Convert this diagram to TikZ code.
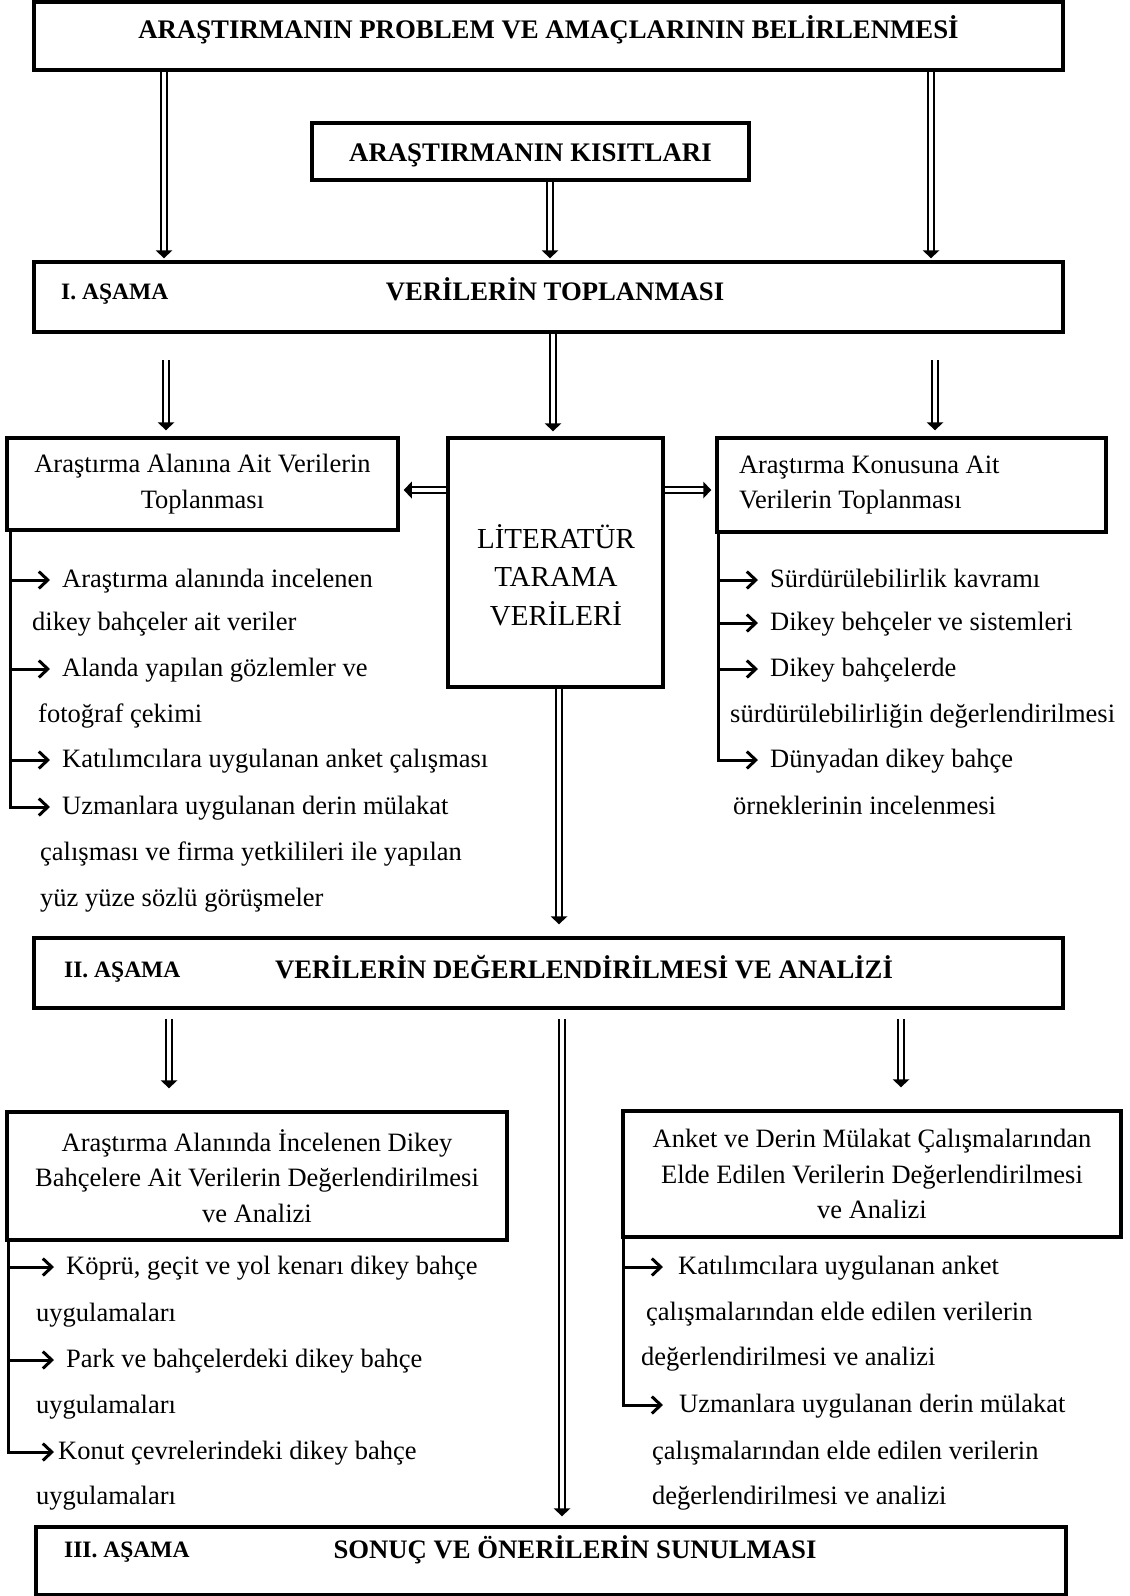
\documentclass[tikz,border=0pt]{standalone}
\usepackage{fontspec}
\setmainfont{Liberation Serif}
\usetikzlibrary{positioning,arrows.meta,decorations.markings}

\begin{document}
\begin{tikzpicture}[x=1pt, y=-1pt,
framenode/.style={rectangle, draw=black, line width=3.5pt, inner sep=0pt},
headnode/.style={font=\fontsize{26.7}{30}\selectfont\bfseries, inner sep=0pt, text height=17pt, text depth=0pt},
stagenode/.style={font=\fontsize{23.5}{30}\selectfont\bfseries, inner sep=0pt, text height=15.5pt, text depth=0pt, anchor=west},
boxtextnode/.style={font=\fontsize{26.5}{35.5}\selectfont, align=center},
itemnode/.style={font=\fontsize{26.5}{30}\selectfont, inner ysep=0pt, inner xsep=12pt, anchor=west, text height=19pt, text depth=5pt},
linenode/.style={font=\fontsize{26.5}{30}\selectfont, inner sep=0pt, anchor=west, text height=19pt, text depth=5pt},
dblarrow/.style={double, double distance=3.3pt, line width=2.5pt, shorten >=7pt,
  postaction={decorate, decoration={markings, mark=at position 1 with {\fill (0,0) -- (-8pt,8.5pt) -- (-8pt,-8.5pt) -- cycle;}}}},
itemarrow/.style={line width=3pt, -{Straight Barb[length=9pt,width=17pt]}},
]
\useasboundingbox (0,0) rectangle (1130,1596);

%Columns of the arrows
\coordinate (colA) at (164,0);
\coordinate (colB) at (550,0);
\coordinate (colC) at (931,0);
\coordinate (colD) at (166,0);
\coordinate (colE) at (553,0);
\coordinate (colF) at (935,0);
\coordinate (colG) at (559,0);
\coordinate (colH) at (169,0);
\coordinate (colI) at (562,0);
\coordinate (colJ) at (901,0);
\coordinate (lineA) at (10,0);
\coordinate (lineB) at (718,0);
\coordinate (lineC) at (8,0);
\coordinate (lineD) at (623,0);

%Nodes
\node[framenode, minimum width=1029pt, minimum height=68pt, font=\fontsize{26.8}{30}\selectfont\bfseries, text height=18pt, text depth=12.8pt] (Problem) at (548.5,36) {ARAŞTIRMANIN PROBLEM VE AMAÇLARININ BELİRLENMESİ};
\node[framenode, minimum width=437pt, minimum height=57pt, font=\fontsize{26.8}{30}\selectfont\bfseries, text height=22pt, text depth=1.8pt] (Limits) at (530.5,151.5) {ARAŞTIRMANIN KISITLARI};

\node[framenode, minimum width=1029pt, minimum height=70pt] (StageI) at (548.5,297) {};
\node[stagenode] (StageIno) at (61,292) {I. AŞAMA};
\node[headnode] (StageIname) at (555,292) {VERİLERİN TOPLANMASI};

\node[framenode, minimum width=391pt, minimum height=92pt, boxtextnode] (Field) at (202.5,484) {Araştırma Alanına Ait Verilerin\\Toplanması};
\node[framenode, minimum height=94pt, text width=345pt, inner xsep=22pt, align=flush left, font=\fontsize{26.5}{35.5}\selectfont] (Topic) at (911.5,485) {Araştırma Konusuna Ait\\Verilerin Toplanması};
\node[framenode, minimum width=215pt, minimum height=249pt] (Lit) at (555.5,562.5) {};
\node[align=center, font=\fontsize{29}{38.5}\selectfont] (Littext) at (556,575) {LİTERATÜR\\TARAMA\\VERİLERİ};

\node[itemnode] (f1) at (50,580) {Araştırma alanında incelenen};
\node[linenode] (f1b) at (32,623) {dikey bahçeler ait veriler};
\node[itemnode] (f2) at (50,669) {Alanda yapılan gözlemler ve};
\node[linenode] (f2b) at (38,715) {fotoğraf çekimi};
\node[itemnode] (f3) at (50,760) {Katılımcılara uygulanan anket çalışması};
\node[itemnode] (f4) at (50,807) {Uzmanlara uygulanan derin mülakat};
\node[linenode] (f4b) at (40,853) {çalışması ve firma yetkilileri ile yapılan};
\node[linenode] (f4c) at (40,899) {yüz yüze sözlü görüşmeler};

\node[itemnode] (t1) at (758,580) {Sürdürülebilirlik kavramı};
\node[itemnode] (t2) at (758,623) {Dikey behçeler ve sistemleri};
\node[itemnode] (t3) at (758,669) {Dikey bahçelerde};
\node[linenode] (t3b) at (730,715) {sürdürülebilirliğin değerlendirilmesi};
\node[itemnode] (t4) at (758,760) {Dünyadan dikey bahçe};
\node[linenode] (t4b) at (733,807) {örneklerinin incelenmesi};

\node[framenode, minimum width=1029pt, minimum height=70pt] (StageII) at (548.5,973) {};
\node[stagenode] (StageIIno) at (64,970) {II. AŞAMA};
\node[headnode] (StageIIname) at (584,970) {VERİLERİN DEĞERLENDİRİLMESİ VE ANALİZİ};

\node[framenode, minimum width=500pt, minimum height=128pt, boxtextnode] (Eval) at (257,1176) {Araştırma Alanında İncelenen Dikey\\Bahçelere Ait Verilerin Değerlendirilmesi\\ve Analizi};
\node[framenode, minimum width=498pt, minimum height=126pt, boxtextnode] (Survey) at (872,1174) {Anket ve Derin Mülakat Çalışmalarından\\Elde Edilen Verilerin Değerlendirilmesi\\ve Analizi};

\node[itemnode] (e1) at (54,1267) {Köprü, geçit ve yol kenarı dikey bahçe};
\node[linenode] (e1b) at (36,1314) {uygulamaları};
\node[itemnode] (e2) at (54,1360) {Park ve bahçelerdeki dikey bahçe};
\node[linenode] (e2b) at (36,1406) {uygulamaları};
\node[itemnode, inner xsep=4pt] (e3) at (54,1452) {Konut çevrelerindeki dikey bahçe};
\node[linenode] (e3b) at (36,1497) {uygulamaları};

\node[itemnode, inner xsep=15pt] (s1) at (663,1267) {Katılımcılara uygulanan anket};
\node[linenode] (s1b) at (646,1313) {çalışmalarından elde edilen verilerin};
\node[linenode] (s1c) at (641,1358) {değerlendirilmesi ve analizi};
\node[itemnode, inner xsep=16pt] (s2) at (663,1405) {Uzmanlara uygulanan derin mülakat};
\node[linenode] (s2b) at (652,1452) {çalışmalarından elde edilen verilerin};
\node[linenode] (s2c) at (652,1497) {değerlendirilmesi ve analizi};

\node[framenode, minimum width=1030pt, minimum height=68pt] (StageIII) at (551,1561) {};
\node[stagenode] (StageIIIno) at (64,1550) {III. AŞAMA};
\node[headnode] (StageIIIname) at (575,1550) {SONUÇ VE ÖNERİLERİN SUNULMASI};

%Lines
\draw[dblarrow] (Problem.south -| colA) -- ([yshift=2pt]StageI.north -| colA);
\draw[dblarrow] (Limits.south -| colB) -- ([yshift=2pt]StageI.north -| colB);
\draw[dblarrow] (Problem.south -| colC) -- ([yshift=2pt]StageI.north -| colC);

\draw[dblarrow, shorten <=26pt] (StageI.south -| colD) -- ([yshift=6pt]Field.north -| colD);
\draw[dblarrow] (StageI.south -| colE) -- ([yshift=5pt]Lit.north -| colE);
\draw[dblarrow, shorten <=26pt] (StageI.south -| colF) -- ([yshift=6pt]Topic.north -| colF);

\draw[dblarrow] (Lit.west |- 0,490) -- ([xshift=4pt]Field.east |- 0,490);
\draw[dblarrow] (Lit.east |- 0,490) -- ([xshift=-4pt]Topic.west |- 0,490);

\foreach \item in {f1,f2,f3,f4} \draw[itemarrow] (Field.south -| lineA) |- (\item.west);
\foreach \item in {t1,t2,t3,t4} \draw[itemarrow] (Topic.south -| lineB) |- (\item.west);

\draw[dblarrow] (Lit.south -| colG) -- ([yshift=12pt]StageII.north -| colG);

\draw[dblarrow, shorten <=9pt] (StageII.south -| colH) -- ([yshift=22pt]Eval.north -| colH);
\draw[dblarrow, shorten <=9pt] (StageII.south -| colI) -- ([yshift=9pt]StageIII.north -| colI);
\draw[dblarrow, shorten <=9pt] (StageII.south -| colJ) -- ([yshift=22pt]Survey.north -| colJ);

\foreach \item in {e1,e2,e3} \draw[itemarrow] (Eval.south -| lineC) |- (\item.west);
\foreach \item in {s1,s2} \draw[itemarrow] (Survey.south -| lineD) |- (\item.west);
\end{tikzpicture}
\end{document}
